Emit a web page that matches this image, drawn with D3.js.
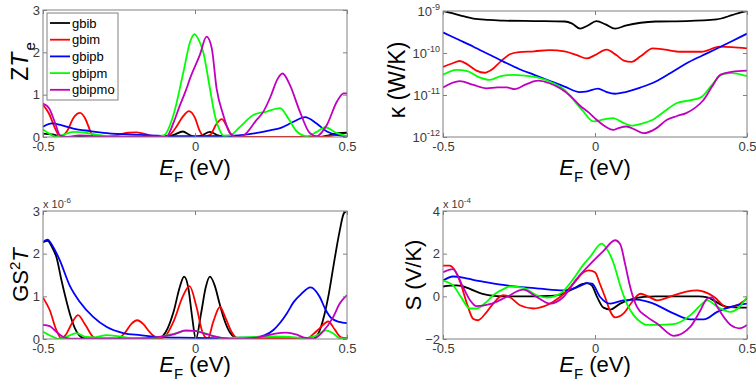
<!DOCTYPE html>
<html>
<head>
<meta charset="utf-8">
<script src="https://cdn.jsdelivr.net/npm/d3@7"></script>
<style>
body { margin: 0; background: #fff; }
svg text { font-family: Arial, "Liberation Sans", Helvetica, sans-serif; }
</style>
</head>
<body>
<div id="chart"></div>
<script>
// series names and colours (MATLAB k r b g m)
var names = ["gbib", "gbim", "gbipb", "gbipm", "gbipmo"];
var colors = ["#000000", "#ff0000", "#0000ff", "#00ff00", "#c000c0"];

// ---- ZT_e ----
var zteGbib = [[-0.5,0.08],[-0.47,0.06],[-0.44,0.01],[-0.4,0],[-0.1,0],[-0.07,0.05],[-0.04,0.13],[-0.02,0.06],[0,0],[0.02,0.03],[0.049,0.12],[0.075,0.04],[0.1,0],[0.41,0],[0.44,0.04],[0.47,0.09],[0.5,0.1]];
var zteGbim = [[-0.5,0.76],[-0.48,0.55],[-0.46,0.2],[-0.444,0.01],[-0.42,0.15],[-0.4,0.45],[-0.378,0.57],[-0.36,0.42],[-0.345,0.15],[-0.335,0.01],[-0.3,0],[-0.26,0.04],[-0.22,0.1],[-0.192,0.11],[-0.15,0.04],[-0.115,0],[-0.09,0.02],[-0.065,0.2],[-0.04,0.48],[-0.02,0.61],[0,0.45],[0.015,0.15],[0.03,0.01],[0.05,0.05],[0.07,0.3],[0.088,0.42],[0.105,0.25],[0.12,0.05],[0.14,0],[0.42,0],[0.45,0.03],[0.47,0.05],[0.5,0.01]];
var zteGbipb = [[-0.5,0.24],[-0.47,0.32],[-0.44,0.28],[-0.4,0.2],[-0.345,0.14],[-0.29,0.09],[-0.18,0.05],[-0.07,0.02],[0.05,0.02],[0.13,0.03],[0.2,0.09],[0.25,0.16],[0.28,0.21],[0.324,0.36],[0.362,0.47],[0.4,0.32],[0.434,0.13],[0.467,0.05],[0.5,0.02]];
var zteGbipm = [[-0.5,0.18],[-0.48,0.08],[-0.46,0.01],[-0.44,0.04],[-0.4,0.12],[-0.36,0.1],[-0.32,0.05],[-0.28,0.02],[-0.2,0.01],[-0.12,0.01],[-0.1,0.05],[-0.071,0.52],[-0.038,1.54],[-0.016,2.25],[-0.002,2.43],[0.015,2.25],[0.027,2.01],[0.049,1.15],[0.065,0.52],[0.08,0.18],[0.095,0.03],[0.115,0.04],[0.148,0.24],[0.192,0.52],[0.236,0.6],[0.28,0.68],[0.307,0.44],[0.335,0.13],[0.368,0.02],[0.4,0.12],[0.428,0.23],[0.467,0.09],[0.5,0.02]];
var zteGbipmo = [[-0.5,0.79],[-0.48,0.68],[-0.46,0.33],[-0.444,0.04],[-0.42,0],[-0.38,0.04],[-0.34,0.02],[-0.3,0.01],[-0.1,0],[-0.093,0.01],[-0.07,0.35],[-0.049,0.76],[-0.03,1.1],[-0.016,1.39],[0.016,1.94],[0.038,2.37],[0.055,2.1],[0.071,1.15],[0.093,0.52],[0.115,0.09],[0.137,0],[0.16,0.04],[0.2,0.38],[0.225,0.6],[0.25,0.98],[0.27,1.35],[0.288,1.5],[0.312,1.23],[0.345,0.6],[0.378,0.09],[0.4,0.02],[0.434,0.29],[0.467,0.84],[0.489,1.03],[0.5,1.03]];

// ---- kappa (log10 of W/K) ----
var kapGbib = [[-0.5,-9.0],[-0.47,-9.05],[-0.43,-9.13],[-0.4,-9.18],[-0.35,-9.21],[-0.3,-9.23],[-0.2,-9.24],[-0.1,-9.25],[-0.075,-9.3],[-0.049,-9.42],[-0.025,-9.35],[0.005,-9.24],[0.035,-9.32],[0.066,-9.42],[0.1,-9.35],[0.15,-9.28],[0.2,-9.25],[0.3,-9.24],[0.4,-9.2],[0.45,-9.1],[0.48,-9.03],[0.5,-9.0]];
var kapGbim = [[-0.5,-10.33],[-0.47,-10.25],[-0.445,-10.19],[-0.42,-10.27],[-0.39,-10.42],[-0.363,-10.47],[-0.34,-10.4],[-0.31,-10.2],[-0.28,-10.03],[-0.25,-9.98],[-0.2,-9.96],[-0.15,-9.93],[-0.1,-9.96],[-0.06,-10.05],[-0.027,-10.13],[0.0,-10.05],[0.038,-9.92],[0.07,-10.05],[0.095,-10.18],[0.12,-10.21],[0.15,-10.08],[0.19,-9.89],[0.23,-9.92],[0.28,-9.97],[0.35,-9.97],[0.41,-9.85],[0.45,-9.86],[0.5,-9.89]];
var kapGbipb = [[-0.5,-9.51],[-0.45,-9.68],[-0.4,-9.85],[-0.35,-10.03],[-0.3,-10.21],[-0.25,-10.38],[-0.2,-10.52],[-0.15,-10.66],[-0.1,-10.8],[-0.05,-10.93],[-0.03,-10.92],[0.01,-10.85],[0.035,-10.92],[0.065,-10.97],[0.1,-10.93],[0.15,-10.82],[0.2,-10.68],[0.25,-10.47],[0.3,-10.25],[0.35,-10.07],[0.4,-9.9],[0.45,-9.72],[0.5,-9.54]];
var kapGbipm = [[-0.5,-10.52],[-0.456,-10.4],[-0.42,-10.43],[-0.38,-10.58],[-0.346,-10.64],[-0.31,-10.55],[-0.27,-10.52],[-0.23,-10.54],[-0.19,-10.58],[-0.137,-10.72],[-0.1,-10.88],[-0.07,-11.12],[-0.04,-11.38],[-0.005,-11.63],[0.03,-11.58],[0.06,-11.55],[0.09,-11.65],[0.12,-11.73],[0.155,-11.68],[0.19,-11.59],[0.23,-11.38],[0.27,-11.19],[0.31,-11.13],[0.35,-11.05],[0.38,-10.8],[0.42,-10.5],[0.45,-10.48],[0.5,-10.55]];
var kapGbipmo = [[-0.5,-10.82],[-0.445,-10.67],[-0.4,-10.76],[-0.357,-10.84],[-0.32,-10.82],[-0.29,-10.82],[-0.264,-10.86],[-0.225,-10.74],[-0.187,-10.66],[-0.15,-10.72],[-0.115,-10.84],[-0.08,-11.03],[-0.05,-11.25],[-0.02,-11.42],[0.005,-11.59],[0.03,-11.73],[0.06,-11.83],[0.08,-11.78],[0.104,-11.75],[0.13,-11.82],[0.16,-11.91],[0.2,-11.8],[0.237,-11.59],[0.27,-11.5],[0.3,-11.43],[0.33,-11.3],[0.357,-11.12],[0.385,-10.8],[0.412,-10.52],[0.45,-10.45],[0.5,-10.42]];

// ---- G S^2 T (x 1e-6) ----
var gstGbib = [[-0.5,2.27],[-0.485,2.3],[-0.47,2.15],[-0.455,1.9],[-0.44,1.4],[-0.425,0.95],[-0.41,0.55],[-0.395,0.25],[-0.38,0.08],[-0.36,0.01],[-0.12,0.01],[-0.105,0.08],[-0.09,0.25],[-0.07,0.65],[-0.05,1.22],[-0.036,1.46],[-0.022,1.2],[-0.01,0.55],[0.003,0],[0.02,0.6],[0.035,1.2],[0.049,1.46],[0.065,1.25],[0.08,0.85],[0.095,0.48],[0.115,0.15],[0.13,0.04],[0.15,0],[0.385,0],[0.405,0.12],[0.425,0.55],[0.44,1.05],[0.455,1.69],[0.475,2.5],[0.49,2.95],[0.5,3.0]];
var gstGbim = [[-0.5,0.97],[-0.478,0.68],[-0.456,0.21],[-0.44,0.02],[-0.425,0.1],[-0.41,0.3],[-0.385,0.56],[-0.36,0.32],[-0.335,0.05],[-0.32,0.01],[-0.255,0.01],[-0.23,0.15],[-0.21,0.35],[-0.19,0.44],[-0.17,0.35],[-0.15,0.17],[-0.13,0.04],[-0.115,0.01],[-0.1,0.05],[-0.07,0.42],[-0.04,1.0],[-0.018,1.24],[0.005,0.75],[0.025,0.15],[0.042,0.01],[0.06,0.4],[0.082,0.75],[0.1,0.5],[0.12,0.17],[0.14,0.02],[0.37,0.02],[0.39,0.12],[0.41,0.25],[0.438,0.41],[0.46,0.22],[0.48,0.04],[0.5,0.02]];
var gstGbipb = [[-0.5,2.27],[-0.485,2.33],[-0.47,2.2],[-0.445,1.85],[-0.412,1.25],[-0.38,0.88],[-0.335,0.52],[-0.29,0.28],[-0.236,0.14],[-0.18,0.09],[-0.125,0.05],[-0.05,0.03],[0.05,0.02],[0.15,0.03],[0.2,0.04],[0.23,0.09],[0.258,0.21],[0.28,0.38],[0.302,0.6],[0.325,0.87],[0.346,1.03],[0.38,1.21],[0.41,0.99],[0.43,0.68],[0.45,0.48],[0.475,0.4],[0.5,0.37]];
var gstGbipm = [[-0.5,0.17],[-0.47,0.06],[-0.445,0],[-0.42,0.06],[-0.39,0.14],[-0.36,0.05],[-0.33,0.04],[-0.29,0.09],[-0.25,0.06],[-0.2,0.02],[-0.15,0.02],[-0.1,0.07],[-0.06,0.14],[-0.03,0.19],[0.0,0.19],[0.03,0.14],[0.06,0.07],[0.09,0.02],[0.13,0.03],[0.2,0.05],[0.26,0.06],[0.31,0.05],[0.36,0.02],[0.4,0.08],[0.43,0.2],[0.455,0.13],[0.476,0.02],[0.5,0.01]];
var gstGbipmo = [[-0.5,0.33],[-0.478,0.3],[-0.456,0.17],[-0.434,0.05],[-0.41,0.01],[-0.2,0.01],[-0.13,0.04],[-0.07,0.11],[-0.03,0.2],[0.0,0.19],[0.027,0.14],[0.071,0.05],[0.115,0.0],[0.2,0.03],[0.26,0.12],[0.3,0.15],[0.335,0.1],[0.36,0.03],[0.39,0.01],[0.42,0.17],[0.455,0.52],[0.476,0.83],[0.5,1.03]];

// ---- S (x 1e-4 V/K) ----
var seeGbib = [[-0.5,0.46],[-0.456,0.51],[-0.42,0.4],[-0.4,0.28],[-0.37,0.12],[-0.346,0.05],[-0.3,0.0],[-0.2,0.0],[-0.15,0.02],[-0.126,0.05],[-0.1,0.15],[-0.071,0.36],[-0.04,0.58],[-0.027,0.62],[-0.01,0.5],[0.006,0.0],[0.028,-0.53],[0.05,-0.62],[0.083,-0.34],[0.127,-0.11],[0.16,-0.03],[0.2,0],[0.34,0],[0.37,-0.05],[0.39,-0.19],[0.434,-0.49],[0.5,-0.53]];
var seeGbim = [[-0.5,1.44],[-0.478,1.44],[-0.445,0.74],[-0.42,-0.4],[-0.401,-1.05],[-0.385,-1.12],[-0.36,-0.8],[-0.335,-0.34],[-0.302,0.05],[-0.28,-0.04],[-0.247,-0.42],[-0.203,-0.57],[-0.159,-0.42],[-0.115,-0.03],[-0.071,0.59],[-0.035,1.15],[-0.02,1.22],[0.0,1.13],[0.016,0.59],[0.033,-0.03],[0.05,-0.7],[0.066,-0.99],[0.094,-0.8],[0.12,-0.3],[0.149,0.12],[0.175,0.0],[0.204,-0.19],[0.259,0.05],[0.3,0.22],[0.336,0.28],[0.37,0.15],[0.392,-0.03],[0.436,-0.53],[0.47,-0.4],[0.5,-0.11]];
var seeGbipb = [[-0.5,0.74],[-0.467,0.93],[-0.43,0.87],[-0.401,0.77],[-0.35,0.64],[-0.291,0.51],[-0.24,0.43],[-0.181,0.36],[-0.104,0.28],[-0.071,0.36],[-0.04,0.55],[-0.027,0.62],[-0.01,0.6],[0.017,-0.03],[0.05,-0.34],[0.094,-0.19],[0.138,-0.15],[0.192,-0.34],[0.258,-0.8],[0.314,-1.08],[0.358,-1.08],[0.402,-0.73],[0.446,-0.49],[0.5,-0.34]];
var seeGbipm = [[-0.5,0.74],[-0.467,0.51],[-0.44,-0.05],[-0.412,-0.57],[-0.39,-0.57],[-0.36,-0.3],[-0.335,0.05],[-0.3,0.35],[-0.28,0.46],[-0.236,0.4],[-0.192,0.05],[-0.159,-0.06],[-0.115,0.12],[-0.071,0.82],[-0.04,1.45],[-0.016,1.85],[0.022,2.47],[0.04,2.2],[0.06,1.6],[0.083,0.5],[0.105,-0.35],[0.127,-0.88],[0.15,-1.2],[0.171,-1.34],[0.259,-1.3],[0.314,-0.88],[0.345,-0.45],[0.369,-0.19],[0.402,-0.49],[0.446,-0.73],[0.475,-0.5],[0.5,-0.03]];
var seeGbipmo = [[-0.5,1.13],[-0.467,1.28],[-0.434,0.43],[-0.41,-0.2],[-0.39,-0.46],[-0.346,-0.37],[-0.291,-0.03],[-0.236,0.31],[-0.192,-0.03],[-0.148,-0.34],[-0.104,-0.03],[-0.06,0.82],[-0.016,1.51],[0.028,2.13],[0.066,2.63],[0.083,2.44],[0.1,1.45],[0.116,0.43],[0.138,-0.49],[0.17,-0.95],[0.204,-1.27],[0.259,-1.85],[0.314,-1.42],[0.345,-0.7],[0.369,-0.11],[0.385,-0.05],[0.402,-0.49],[0.446,-1.34],[0.475,-1.5],[0.5,-1.34]];

var xTicks = [-0.5, 0, 0.5];

var width = 756, height = 386;
var svg = d3.select("#chart").append("svg")
    .attr("width", width)
    .attr("height", height);

var frameColor = "#808080";
var tickTextColor = "#3a3a3a";

function drawPanel(cfg) {
    var g = svg.append("g").attr("transform", "translate(" + cfg.left + "," + cfg.top + ")");
    var w = cfg.w, h = cfg.h;
    var x = d3.scaleLinear().domain([-0.5, 0.5]).range([0, w]);
    var y = cfg.y.range([h, 0]);

    g.append("clipPath").attr("id", cfg.id + "clip")
        .append("rect").attr("width", w).attr("height", h);

    // lines
    var line = d3.line()
        .x(function(d) { return x(d[0]); })
        .y(function(d) { return y(cfg.val(d[1])); })
        .curve(d3.curveMonotoneX);
    g.append("g").attr("clip-path", "url(#" + cfg.id + "clip)")
        .selectAll("path").data(cfg.series)
        .enter().append("path")
        .attr("d", line)
        .attr("fill", "none")
        .attr("stroke", function(d, i) { return colors[i]; })
        .attr("stroke-width", 1.8)
        .attr("stroke-linejoin", "round");

    // axes, MATLAB style: inward ticks on all four sides
    var bottom = g.append("g").attr("transform", "translate(0," + h + ")")
        .call(d3.axisBottom(x).tickValues(xTicks).tickSize(-4).tickPadding(5)
            .tickFormat(function(d) { return d === 0 ? "0" : String(d); }));
    var top = g.append("g")
        .call(d3.axisTop(x).tickValues(xTicks).tickSize(-4).tickFormat(""));
    var left = g.append("g")
        .call(d3.axisLeft(y).tickValues(cfg.yTicks).tickSize(-4).tickPadding(3)
            .tickFormat(cfg.yFormat));
    var right = g.append("g").attr("transform", "translate(" + w + ",0)")
        .call(d3.axisRight(y).tickValues(cfg.yTicks).tickSize(-4).tickFormat(""));

    [bottom, top, left, right].forEach(function(a) {
        a.select(".domain").remove();
        a.selectAll("line").attr("stroke", frameColor);
        a.selectAll("text")
            .attr("fill", tickTextColor)
            .style("font-size", "13px");
    });

    if (cfg.logLabels) {
        left.selectAll(".tick text").each(function(d) {
            var t = d3.select(this);
            var p = Math.round(Math.log10(d));
            t.text(null);
            t.append("tspan").text("10");
            t.append("tspan").attr("dy", -6).style("font-size", "9px").text(p);
        });
    }

    g.append("rect")
        .attr("width", w).attr("height", h)
        .attr("fill", "none")
        .attr("stroke", frameColor)
        .attr("stroke-width", 1);

    // x label: E_F (eV)
    var xl = g.append("text")
        .attr("x", w / 2)
        .attr("y", cfg.xLabelY)
        .attr("text-anchor", "middle")
        .style("font-size", "22px")
        .attr("fill", "#000");
    xl.append("tspan").style("font-style", "italic").text("E");
    xl.append("tspan").attr("dy", 7).style("font-size", "15px").text("F");
    xl.append("tspan").attr("dy", -7).text(" (eV)");

    // y label
    var yl = g.append("text")
        .attr("transform", "translate(" + cfg.yLabelX + "," + (h / 2 + cfg.yLabelShift) + ") rotate(-90)")
        .attr("text-anchor", "middle")
        .style("font-size", cfg.yLabelSize || "22px")
        .attr("fill", "#000");
    cfg.yLabel(yl);

    if (cfg.multiplier) {
        var m = g.append("text")
            .attr("x", 0).attr("y", -3)
            .style("font-size", "11px")
            .attr("fill", tickTextColor);
        m.append("tspan").text("x 10");
        m.append("tspan").attr("dy", -5).style("font-size", "8px").text(cfg.multiplier);
    }
    return {g: g, x: x, y: y};
}

// top-left: ZT_e
var p1 = drawPanel({
    id: "p1", left: 43, top: 10, w: 304, h: 127,
    y: d3.scaleLinear().domain([0, 3]),
    yTicks: [0, 1, 2, 3], yFormat: d3.format("d"),
    val: function(v) { return v; },
    series: [zteGbib, zteGbim, zteGbipb, zteGbipm, zteGbipmo],
    xLabelY: 165, yLabelX: -15, yLabelShift: -12,
    yLabelSize: "23px",
    yLabel: function(t) {
        t.append("tspan").text("Z");
        t.append("tspan").style("font-style", "italic").text("T");
        t.append("tspan").attr("dy", 7).attr("dx", 2).style("font-size", "15px").text("e");
    }
});

// legend
var legend = p1.g.append("g").attr("transform", "translate(4,3)");
legend.append("rect")
    .attr("width", 71).attr("height", 87)
    .attr("fill", "#fff").attr("stroke", frameColor);
var legendRows = legend.selectAll(".leg").data(names).enter().append("g")
    .attr("class", "leg")
    .attr("transform", function(d, i) { return "translate(0," + (10 + i * 16.7) + ")"; });
legendRows.append("line")
    .attr("x1", 3).attr("x2", 23)
    .attr("stroke", function(d, i) { return colors[i]; })
    .attr("stroke-width", 1.8);
legendRows.append("text")
    .attr("x", 25).attr("y", 4.5)
    .style("font-size", "13px")
    .attr("fill", "#000")
    .text(function(d) { return d; });

// top-right: kappa
drawPanel({
    id: "p2", left: 443, top: 11, w: 304, h: 126,
    y: d3.scaleLog().domain([1e-12, 1e-9]),
    yTicks: [1e-12, 1e-11, 1e-10, 1e-9], yFormat: function(d) { return d; },
    logLabels: true,
    val: function(v) { return Math.pow(10, v); },
    series: [kapGbib, kapGbim, kapGbipb, kapGbipm, kapGbipmo],
    xLabelY: 164, yLabelX: -38, yLabelShift: 6,
    yLabelSize: "23px",
    yLabel: function(t) {
        t.append("tspan").text("\u03ba  (W/K)");
    }
});

// bottom-left: G S^2 T
drawPanel({
    id: "p3", left: 43, top: 211, w: 304, h: 128,
    y: d3.scaleLinear().domain([0, 3]),
    yTicks: [0, 1, 2, 3], yFormat: d3.format("d"),
    val: function(v) { return v; },
    series: [gstGbib, gstGbim, gstGbipb, gstGbipm, gstGbipmo],
    multiplier: "-6",
    xLabelY: 161, yLabelX: -15, yLabelShift: 0,
    yLabel: function(t) {
        t.append("tspan").text("GS");
        t.append("tspan").attr("dy", -8).style("font-size", "15px").text("2");
        t.append("tspan").attr("dy", 8).style("font-style", "italic").text("T");
    }
});

// bottom-right: S
drawPanel({
    id: "p4", left: 443, top: 211, w: 304, h: 128,
    y: d3.scaleLinear().domain([-2, 4]),
    yTicks: [-2, 0, 2, 4], yFormat: d3.format("d"),
    val: function(v) { return v; },
    series: [seeGbib, seeGbim, seeGbipb, seeGbipm, seeGbipmo],
    multiplier: "-4",
    xLabelY: 161, yLabelX: -22, yLabelShift: 0,
    yLabel: function(t) {
        t.append("tspan").text("S (V/K)");
    }
});
</script>
</body>
</html>
